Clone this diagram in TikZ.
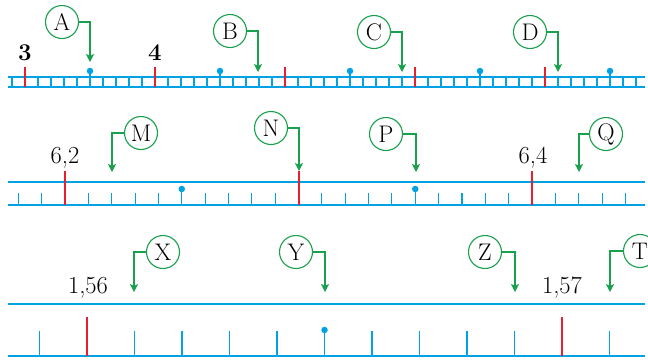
\documentclass[tikz,border=0pt]{standalone}
\usetikzlibrary{arrows.meta}
\definecolor{rulerblue}{RGB}{0,162,228}
\definecolor{tickred}{RGB}{230,32,48}
\definecolor{callgreen}{RGB}{24,160,76}
\begin{document}
\begin{tikzpicture}[x=1pt,y=-1pt,
  axis/.style={rulerblue,line width=2pt},
  rung/.style={rulerblue,line width=1.1pt},
  redtick/.style={tickred,line width=2pt},
  callout/.style={circle,draw=callgreen,line width=1.1pt,minimum size=33pt,inner sep=0pt,font=\fontsize{24}{28}\selectfont},
  pointer/.style={callgreen,line width=1.2pt,-{Stealth[length=8pt,width=8pt,inset=2pt]}},
  numlabel/.style={anchor=base,inner sep=0pt,font=\fontsize{24.5}{28}\selectfont},
  boldlabel/.style={anchor=base,inner sep=0pt,font=\fontsize{24}{28}\selectfont\bfseries},
  dotmark/.style={circle,fill=rulerblue,inner sep=0pt,minimum size=6.5pt}]
\useasboundingbox (0,0) rectangle (648,360);

% ---------- Row 1 ----------
\draw[axis] (8,77) -- (645,77);
\draw[axis] (8,87) -- (645,87);
\foreach \k in {0,...,48} \draw[rung] ({12+13*\k},77) -- ({12+13*\k},87);
\foreach \k in {0,...,4} \draw[redtick] ({25+130*\k},67) -- ({25+130*\k},87);
\foreach \k in {0,...,4} {
  \node[dotmark] (r1d\k) at ({90+130*\k},71) {};
  \draw[rung] (r1d\k.center) -- ({90+130*\k},77);
}
\node[boldlabel] (n3) at (25,60) {3};
\node[boldlabel] (n4) at (155,60) {4};

\node[callout] (A) at (62,22) {A};
\node[callout] (B) at (230,31) {B};
\node[callout] (C) at (374,32) {C};
\node[callout] (D) at (530,32) {D};
\coordinate (tA) at (90,62);
\coordinate (tB) at (258,72);
\coordinate (tC) at (402,72);
\coordinate (tD) at (558,72);
\draw[pointer] (A.east) -| (tA);
\draw[pointer] (B.east) -| (tB);
\draw[pointer] (C.east) -| (tC);
\draw[pointer] (D.east) -| (tD);

% ---------- Row 2 ----------
\draw[axis] (8,182) -- (645,182);
\draw[axis] (8,205) -- (645,205);
\foreach \k in {-2,...,24} \draw[rung] ({65+23.35*\k},193) -- ({65+23.35*\k},205);
\foreach \k in {0,10,20} \draw[redtick] ({65+23.35*\k},171) -- ({65+23.35*\k},205);
\foreach \k in {5,15} {
  \node[dotmark] (r2d\k) at ({65+23.35*\k},189) {};
  \draw[rung] (r2d\k.center) -- ({65+23.35*\k},193);
}
\node[numlabel] (n62) at (65,163) {6,2};
\node[numlabel] (n64) at (533,163) {6,4};

\node[callout] (M) at (141,133) {M};
\node[callout] (N) at (271,128) {N};
\node[callout] (P) at (386,134) {P};
\node[callout] (Q) at (606,134) {Q};
\coordinate (tM) at (112,172);
\coordinate (tN) at (299,171);
\coordinate (tP) at (416,172);
\coordinate (tQ) at (579,172);
\draw[pointer] (M.west) -| (tM);
\draw[pointer] (N.east) -| (tN);
\draw[pointer] (P.east) -| (tP);
\draw[pointer] (Q.west) -| (tQ);

% ---------- Row 3 ----------
\draw[axis] (8,304) -- (645,304);
\draw[axis] (8,356) -- (645,356);
\foreach \k in {-1,...,11} \draw[rung] ({87+47.5*\k},331) -- ({87+47.5*\k},356);
\foreach \k in {0,10} \draw[redtick] ({87+47.5*\k},317) -- ({87+47.5*\k},356);
\node[dotmark] (r3d5) at ({87+47.5*5},330) {};
\node[numlabel] (n156) at (88,293) {1,56};
\node[numlabel] (n157) at (562,293) {1,57};

\node[callout] (X) at (163,252) {X};
\node[callout] (Y) at (296,252) {Y};
\node[callout] (Z) at (485,252) {Z};
\node[callout] (T) at (640,251) {T};
\coordinate (tX) at (134,292);
\coordinate (tY) at (325,292);
\coordinate (tZ) at (515,292);
\coordinate (tT) at (610,292);
\draw[pointer] (X.west) -| (tX);
\draw[pointer] (Y.east) -| (tY);
\draw[pointer] (Z.east) -| (tZ);
\draw[pointer] (T.west) -| (tT);
\end{tikzpicture}
\end{document}
